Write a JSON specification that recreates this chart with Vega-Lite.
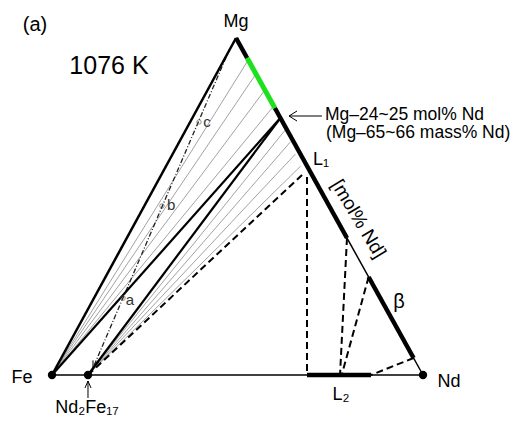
{
  "$schema": "https://vega.github.io/schema/vega-lite/v6.json",
  "width": 518,
  "height": 424,
  "autosize": {"type": "fit", "contains": "padding"},
  "padding": 0,
  "background": "white",
  "config": {"view": {"stroke": null}, "text": {"font": "Liberation Sans"}},
  "datasets": {
    "thinEdges": [
      {"x": 0, "y": 0, "x2": 100, "y2": 0},
      {"x": 49.60, "y": 90.84, "x2": 100, "y2": 0}
    ],
    "feMg": [
      {"x": 0, "y": 0, "x2": 49.60, "y2": 90.84}
    ],
    "thickEdges": [
      {"x": 49.60, "y": 90.84, "x2": 52.59, "y2": 85.45},
      {"x": 60.07, "y": 71.97, "x2": 79.51, "y2": 36.93},
      {"x": 85.34, "y": 26.42, "x2": 97.46, "y2": 4.58},
      {"x": 68.73, "y": 0, "x2": 85.98, "y2": 0}
    ],
    "green": [
      {"x": 52.59, "y": 85.45, "x2": 60.07, "y2": 71.97}
    ],
    "thickTie": [
      {"x": 0, "y": 0, "x2": 61.56, "y2": 69.28},
      {"x": 9.70, "y": 0, "x2": 61.56, "y2": 69.28}
    ],
    "thinTie": [
      {"x": 0, "y": 0, "x2": 52.89, "y2": 84.91},
      {"x": 0, "y": 0, "x2": 54.98, "y2": 81.14},
      {"x": 0, "y": 0, "x2": 57.38, "y2": 76.82},
      {"x": 0, "y": 0, "x2": 59.77, "y2": 72.51},
      {"x": 9.70, "y": 0, "x2": 62.86, "y2": 66.04},
      {"x": 9.70, "y": 0, "x2": 64.23, "y2": 62.80},
      {"x": 9.70, "y": 0, "x2": 65.63, "y2": 59.57},
      {"x": 9.70, "y": 0, "x2": 67.04, "y2": 56.33}
    ],
    "dashed": [
      {"x": 9.70, "y": 0, "x2": 67.39, "y2": 53.91},
      {"x": 68.73, "y": 53.37, "x2": 68.73, "y2": 0},
      {"x": 79.51, "y": 36.93, "x2": 77.63, "y2": 0},
      {"x": 85.34, "y": 26.42, "x2": 78.17, "y2": 0.27},
      {"x": 97.46, "y": 4.58, "x2": 85.98, "y2": 0}
    ],
    "dashdot": [
      {"x": 47.98, "y": 88.14, "x2": 11.05, "y2": 1.89}
    ],
    "arrows": [
      {"x": 63.88, "y": 69.81, "x2": 72.78, "y2": 69.81},
      {"x": 63.88, "y": 69.81, "x2": 66.04, "y2": 71.16},
      {"x": 63.88, "y": 69.81, "x2": 66.04, "y2": 68.46},
      {"x": 9.70, "y": -1.62, "x2": 9.70, "y2": -6.20},
      {"x": 9.70, "y": -1.62, "x2": 8.89, "y2": -3.50},
      {"x": 9.70, "y": -1.62, "x2": 10.51, "y2": -3.50},
      {"x": 11.05, "y": 1.89, "x2": 12.54, "y2": 3.30},
      {"x": 11.05, "y": 1.89, "x2": 11.05, "y2": 3.94}
    ],
    "dots": [
      {"x": 0, "y": 0},
      {"x": 9.70, "y": 0},
      {"x": 100, "y": 0}
    ],
    "samples": [
      {"x": 19.14, "y": 20.75},
      {"x": 29.65, "y": 45.55},
      {"x": 39.62, "y": 68.19}
    ],
    "sampleLabels": [
      {"x": 19.9, "y": 20.22, "label": "a"},
      {"x": 31.0, "y": 45.82, "label": "b"},
      {"x": 40.8, "y": 68.19, "label": "c"}
    ],
    "vertexLabels": [
      {"x": 49.6, "y": 95.15, "label": "Mg"},
      {"x": -8.09, "y": -0.81, "label": "Fe"},
      {"x": 107.0, "y": -1.89, "label": "Nd"}
    ],
    "panelLabel": [
      {"x": -4.58, "y": 94.34, "label": "(a)"}
    ],
    "tempLabel": [
      {"x": 15.36, "y": 83.29, "label": "1076 K"}
    ],
    "centerLabels": [
      {"x": 9.43, "y": -8.89, "label": "Nd₂Fe₁₇"},
      {"x": 77.90, "y": -5.39, "label": "L₂"}
    ],
    "betaLabel": [
      {"x": 93.53, "y": 19.68, "label": "β"}
    ],
    "l1Label": [
      {"x": 70.35, "y": 57.95, "label": "L₁"}
    ],
    "leftLabels": [
      {"x": 73.58, "y": 69.95, "label": "Mg–24~25 mol% Nd"},
      {"x": 73.85, "y": 65.36, "label": "(Mg–65~66 mass% Nd)"}
    ],
    "axisLabel": [
      {"x": 82.61, "y": 42.05, "label": "[mol% Nd]"}
    ]
  },
  "encoding": {
    "x": {"field": "x", "type": "quantitative", "scale": {"domain": [-14.016, 125.606], "nice": false, "zero": false}, "axis": null},
    "y": {"field": "y", "type": "quantitative", "scale": {"domain": [-13.208, 101.078], "nice": false, "zero": false}, "axis": null}
  },
  "layer": [
    {"data": {"name": "thinTie"}, "mark": {"type": "rule", "color": "#8a8a8a", "strokeWidth": 0.8}, "encoding": {"x2": {"field": "x2"}, "y2": {"field": "y2"}}},
    {"data": {"name": "dashdot"}, "mark": {"type": "rule", "color": "#222222", "strokeWidth": 1.3, "strokeDash": [5, 2, 1, 2]}, "encoding": {"x2": {"field": "x2"}, "y2": {"field": "y2"}}},
    {"data": {"name": "thinEdges"}, "mark": {"type": "rule", "color": "black", "strokeWidth": 1.5}, "encoding": {"x2": {"field": "x2"}, "y2": {"field": "y2"}}},
    {"data": {"name": "feMg"}, "mark": {"type": "rule", "color": "black", "strokeWidth": 2.5}, "encoding": {"x2": {"field": "x2"}, "y2": {"field": "y2"}}},
    {"data": {"name": "thickTie"}, "mark": {"type": "rule", "color": "black", "strokeWidth": 2.2}, "encoding": {"x2": {"field": "x2"}, "y2": {"field": "y2"}}},
    {"data": {"name": "dashed"}, "mark": {"type": "rule", "color": "black", "strokeWidth": 2, "strokeDash": [7, 4]}, "encoding": {"x2": {"field": "x2"}, "y2": {"field": "y2"}}},
    {"data": {"name": "thickEdges"}, "mark": {"type": "rule", "color": "black", "strokeWidth": 4.5}, "encoding": {"x2": {"field": "x2"}, "y2": {"field": "y2"}}},
    {"data": {"name": "green"}, "mark": {"type": "rule", "color": "#1ee11e", "strokeWidth": 5}, "encoding": {"x2": {"field": "x2"}, "y2": {"field": "y2"}}},
    {"data": {"name": "arrows"}, "mark": {"type": "rule", "color": "black", "strokeWidth": 1}, "encoding": {"x2": {"field": "x2"}, "y2": {"field": "y2"}}},
    {"data": {"name": "dots"}, "mark": {"type": "circle", "color": "black", "size": 70, "opacity": 1}},
    {"data": {"name": "samples"}, "mark": {"type": "point", "shape": "circle", "color": "#555555", "size": 20, "strokeWidth": 0.9, "filled": false}},
    {"data": {"name": "sampleLabels"}, "mark": {"type": "text", "align": "left", "baseline": "middle", "fontSize": 15, "color": "#333333"}, "encoding": {"text": {"field": "label"}}},
    {"data": {"name": "vertexLabels"}, "mark": {"type": "text", "align": "center", "baseline": "middle", "fontSize": 18, "color": "black"}, "encoding": {"text": {"field": "label"}}},
    {"data": {"name": "panelLabel"}, "mark": {"type": "text", "align": "center", "baseline": "middle", "fontSize": 20, "color": "black"}, "encoding": {"text": {"field": "label"}}},
    {"data": {"name": "tempLabel"}, "mark": {"type": "text", "align": "center", "baseline": "middle", "fontSize": 25, "color": "black"}, "encoding": {"text": {"field": "label"}}},
    {"data": {"name": "centerLabels"}, "mark": {"type": "text", "align": "center", "baseline": "middle", "fontSize": 18, "color": "black"}, "encoding": {"text": {"field": "label"}}},
    {"data": {"name": "betaLabel"}, "mark": {"type": "text", "align": "center", "baseline": "middle", "fontSize": 20, "color": "black"}, "encoding": {"text": {"field": "label"}}},
    {"data": {"name": "l1Label"}, "mark": {"type": "text", "align": "left", "baseline": "middle", "fontSize": 18, "color": "black"}, "encoding": {"text": {"field": "label"}}},
    {"data": {"name": "leftLabels"}, "mark": {"type": "text", "align": "left", "baseline": "middle", "fontSize": 17.5, "color": "black"}, "encoding": {"text": {"field": "label"}}},
    {"data": {"name": "axisLabel"}, "mark": {"type": "text", "align": "center", "baseline": "middle", "fontSize": 19, "angle": 59, "color": "black"}, "encoding": {"text": {"field": "label"}}}
  ]
}
